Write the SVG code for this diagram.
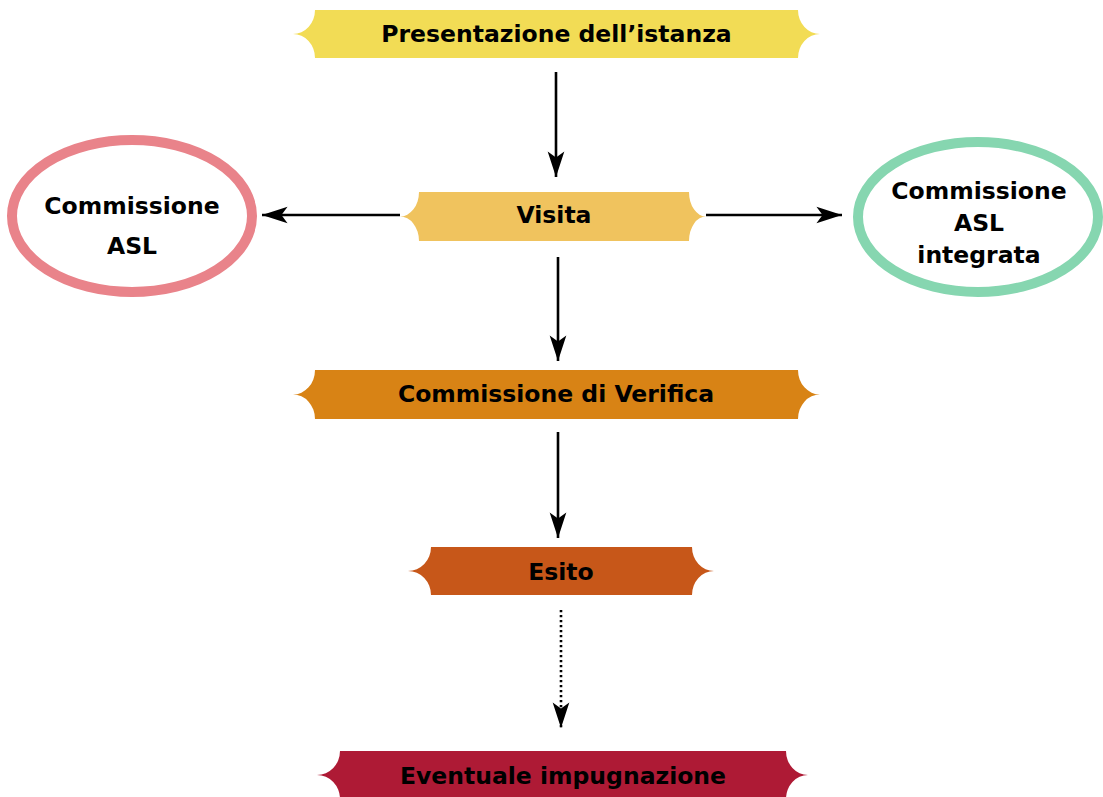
<svg xmlns="http://www.w3.org/2000/svg" width="1103" height="797" viewBox="0 0 1103 797">
  <style>
    .t { font-family: "DejaVu Sans", Verdana, sans-serif; font-weight: bold; font-size: 23.5px; fill: #000; text-anchor: middle; }
    .ln { stroke: #000; stroke-width: 2.6; fill: none; }
    .dot { stroke: #000; stroke-width: 2.6; fill: none; stroke-dasharray: 2.2 2.8; }
  </style>
  <defs>
    <marker id="ah" markerUnits="userSpaceOnUse" markerWidth="30" markerHeight="30" viewBox="-25 -10 27 20" refX="0" refY="0" orient="auto">
      <path d="M0,0 L-23,-7.5 L-17.5,0 L-23,7.5 Z" fill="#000"/>
    </marker>
  </defs>
  <rect width="1103" height="797" fill="#fff"/>

  <g id="presentazione">
    <path d="M315,10 H798 A22,24 0 0 0 820,34 A22,24 0 0 0 798,58 H315 A22,24 0 0 0 293,34 A22,24 0 0 0 315,10 Z" fill="#F2DC55"/>
    <text class="t" x="556.5" y="42">Presentazione dell’istanza</text>
  </g>

  <g id="visita">
    <path d="M419,192 H689 A17,24.5 0 0 0 706,216.5 A17,24.5 0 0 0 689,241 H419 A19,24.5 0 0 0 400,216.5 A19,24.5 0 0 0 419,192 Z" fill="#F0C35E"/>
    <text class="t" x="554" y="223">Visita</text>
  </g>

  <g id="commissione-asl">
    <ellipse cx="132" cy="216" rx="120" ry="76" fill="#fff" stroke="#E9838A" stroke-width="10"/>
    <text class="t" x="132" y="213.5">Commissione</text>
    <text class="t" x="132" y="253.5">ASL</text>
  </g>

  <g id="commissione-asl-integrata">
    <ellipse cx="978" cy="217" rx="120" ry="75" fill="#fff" stroke="#86D6B0" stroke-width="10"/>
    <text class="t" x="979" y="198.5">Commissione</text>
    <text class="t" x="979" y="230.5">ASL</text>
    <text class="t" x="979" y="262.5">integrata</text>
  </g>

  <g id="commissione-verifica">
    <path d="M315,370 H798 A22,24.5 0 0 0 820,394.5 A22,24.5 0 0 0 798,419 H315 A22,24.5 0 0 0 293,394.5 A22,24.5 0 0 0 315,370 Z" fill="#D88315"/>
    <text class="t" x="556" y="402">Commissione di Verifica</text>
  </g>

  <g id="esito">
    <path d="M431,547 H692 A22,24 0 0 0 714,571 A22,24 0 0 0 692,595 H431 A23,24 0 0 0 408,571 A23,24 0 0 0 431,547 Z" fill="#C75719"/>
    <text class="t" x="561" y="579.5">Esito</text>
  </g>

  <g id="impugnazione">
    <path d="M340,751 H786 A22,24 0 0 0 808,775 A22,24 0 0 0 786,799 H340 A23,24 0 0 0 317,775 A23,24 0 0 0 340,751 Z" fill="#AE1A35"/>
    <text class="t" x="563" y="783.5">Eventuale impugnazione</text>
  </g>

  <g id="connectors">
    <line class="ln" x1="556" y1="72" x2="556" y2="177" marker-end="url(#ah)"/>
    <line class="ln" x1="400" y1="215" x2="262" y2="215" marker-end="url(#ah)"/>
    <line class="ln" x1="706" y1="215" x2="842" y2="215" marker-end="url(#ah)"/>
    <line class="ln" x1="558" y1="257" x2="558" y2="361" marker-end="url(#ah)"/>
    <line class="ln" x1="558" y1="432" x2="558" y2="538" marker-end="url(#ah)"/>
    <line class="dot" x1="561" y1="610" x2="561" y2="728" marker-end="url(#ah)"/>
  </g>
</svg>
